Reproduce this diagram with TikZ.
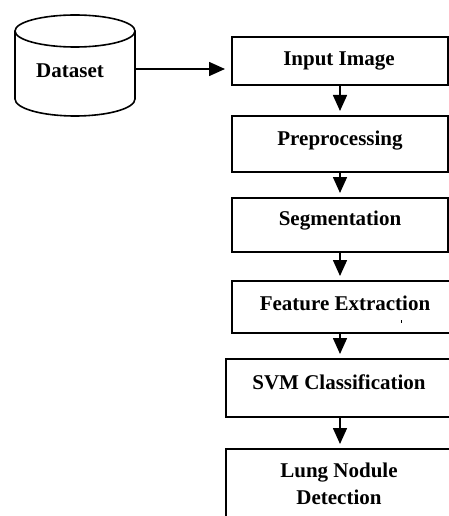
\documentclass[tikz,border=0pt]{standalone}
\usepackage{fontspec}
\setmainfont{Liberation Serif}
\usetikzlibrary{arrows.meta}

\begin{document}
\begin{tikzpicture}[x=1pt,y=1pt,
  stroke/.style={line width=1.6pt},
  frame/.style={stroke, draw, rectangle, anchor=north west, inner sep=0pt},
  steptext/.style={font=\bfseries\fontsize{21}{27}\selectfont, align=center, inner sep=0pt},
  flow/.style={stroke, -{Triangle[length=16pt,width=14pt]}},
]
\useasboundingbox (0,0) rectangle (449,-516);
\clip (0,0) rectangle (449,-516);

% database cylinder
\draw[stroke] (15,-31) -- (15,-99) arc[start angle=180, end angle=360, x radius=60pt, y radius=17pt] -- (135,-31);
\draw[stroke] (75,-31) ellipse [x radius=60pt, y radius=16pt];
\node[steptext] (data) at (70,-71) {Dataset};
\coordinate (data-out) at (135,-69);

% processing steps (the lower boxes run past the right margin)
\node[frame, minimum width=216pt, minimum height=48pt] (f1) at (231,-36) {};
\node[frame, minimum width=216pt, minimum height=56pt] (f2) at (231,-115) {};
\node[frame, minimum width=216pt, minimum height=54pt] (f3) at (231,-197) {};
\node[frame, minimum width=240pt, minimum height=52pt] (f4) at (231,-280) {};
\node[frame, minimum width=246pt, minimum height=58pt] (f5) at (225,-358) {};
\node[frame, minimum width=246pt, minimum height=90pt] (f6) at (225,-448) {};

\node[steptext] (t1) at (339,-61) {Input Image};
\node[steptext] (t2) at (340,-141) {Preprocessing};
\node[steptext] (t3) at (340,-221) {Segmentation};
\node[steptext] (t4) at (345,-303) {Feature Extraction};
\node[steptext] (t5) at (339,-382) {SVM Classification};
\node[steptext] (t6) at (339,-484) {Lung Nodule\\Detection};

% stray mark inside the feature extraction box
\fill (400.5,-320) rectangle (402,-323);

% connectors
\draw[flow, shorten >=6pt] (data-out) -- (data-out -| f1.west);
\coordinate (axis) at (340,0);
\draw[flow, shorten >=4pt] (axis |- f1.south) -- (axis |- f2.north);
\draw[flow, shorten >=4pt] (axis |- f2.south) -- (axis |- f3.north);
\draw[flow, shorten >=4pt] (axis |- f3.south) -- (axis |- f4.north);
\draw[flow, shorten >=4pt] (axis |- f4.south) -- (axis |- f5.north);
\draw[flow, shorten >=4pt] (axis |- f5.south) -- (axis |- f6.north);
\end{tikzpicture}
\end{document}
